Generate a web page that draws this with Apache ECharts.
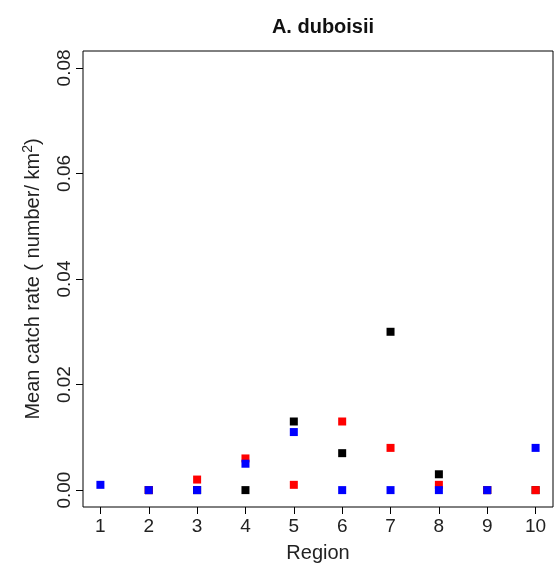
<!DOCTYPE html>
<html>
<head>
<meta charset="utf-8">
<script src="https://cdn.jsdelivr.net/npm/echarts@6/dist/echarts.min.js"></script>
<style>
  html, body { margin: 0; padding: 0; background: #fff; }
  #chart { width: 555px; height: 569px; }
</style>
</head>
<body>
<div id="chart"></div>
<script>
	var chart = echarts.init(document.getElementById('chart'));

	// regions 1..10
	var regions = [1, 2, 3, 4, 5, 6, 7, 8, 9, 10];
	// three series, drawn black, then red, then blue (blue on top)
	var blackVals = [null, 0, 0, 0, 0.013, 0.007, 0.030, 0.003, 0, 0];
	var redVals   = [null, 0, 0.002, 0.006, 0.001, 0.013, 0.008, 0.001, 0, 0];
	var blueVals  = [0.001, 0, 0, 0.005, 0.011, 0, 0, 0, 0, 0.008];
	var yTicks = [0, 0.02, 0.04, 0.06, 0.08];
	var yLabels = ['0.00', '0.02', '0.04', '0.06', '0.08'];

	function pairs(vals) {
		var out = [];
		for (var i = 0; i < regions.length; i++) {
			if (vals[i] !== null) out.push([regions[i], vals[i]]);
		}
		return out;
	}

	function pts(name, color, vals) {
		return {
			name: name,
			type: 'scatter',
			symbol: 'rect',
			symbolSize: 8,
			itemStyle: { color: color, opacity: 1 },
			data: pairs(vals)
		};
	}

	var font = 'Liberation Sans, Arial, sans-serif';

	chart.setOption({
		backgroundColor: '#fff',
		animation: false,
		title: {
			text: 'A. duboisii',
			left: 318,
			top: 12,
			textAlign: 'center',
			textStyle: { fontFamily: font, fontSize: 20, fontWeight: 'bold', color: '#111' }
		},
		grid: {
			left: 83, top: 51, right: 2, bottom: 62,
			show: true, borderColor: '#000', borderWidth: 1,
			backgroundColor: 'transparent'
		},
		xAxis: {
			type: 'value',
			min: 0.64, max: 10.36,
			name: 'Region',
			nameLocation: 'middle',
			nameGap: 36,
			nameTextStyle: { fontFamily: font, fontSize: 20, color: '#222' },
			axisLine: { show: false, onZero: false },
			axisTick: { show: true, inside: false, length: 7, customValues: regions, lineStyle: { color: '#000' } },
			axisLabel: {
				customValues: regions, margin: 10,
				fontFamily: font, fontSize: 19, color: '#222'
			},
			splitLine: { show: false }
		},
		yAxis: {
			type: 'value',
			min: -0.0032, max: 0.0832,
			name: 'Mean catch rate ( number/ km{sup|2})',
			nameLocation: 'middle',
			nameGap: 38,
			nameTextStyle: {
				fontFamily: font, fontSize: 20, color: '#222',
				rich: { sup: { fontFamily: font, fontSize: 14, color: '#222', verticalAlign: 'top', padding: [0, 0, 10, 0] } }
			},
			axisLine: { show: false, onZero: false },
			axisTick: { show: true, inside: false, length: 7, customValues: yTicks, lineStyle: { color: '#000' } },
			axisLabel: {
				customValues: yTicks, rotate: 90, margin: 9,
				fontFamily: font, fontSize: 19, color: '#222',
				formatter: function (v) {
					var i = yTicks.indexOf(v);
					return i >= 0 ? yLabels[i] : '';
				}
			},
			splitLine: { show: false }
		},
		series: [
			pts('black', '#000000', blackVals),
			pts('red', '#ff0000', redVals),
			pts('blue', '#0000ff', blueVals)
		]
	});
</script>
</body>
</html>
